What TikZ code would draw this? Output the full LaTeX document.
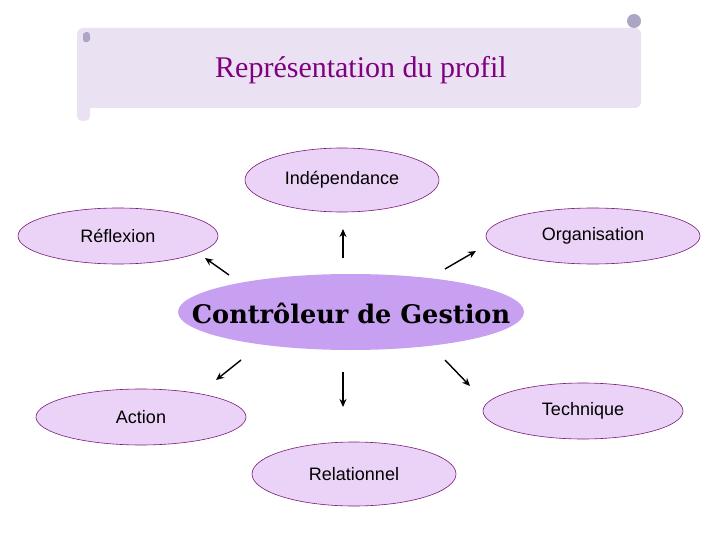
\documentclass[tikz,border=0pt]{standalone}
\usepackage{fontspec}
\setmainfont{Liberation Serif}
\setsansfont{Liberation Sans}
\newfontfamily\ctfont{DejaVu Serif}
\usetikzlibrary{shapes.geometric,arrows.meta}
\definecolor{scroll}{HTML}{EAE2F2}
\definecolor{curl}{HTML}{ADA5C4}
\definecolor{elfill}{HTML}{EBD3F7}
\definecolor{elline}{HTML}{7A1A7A}
\definecolor{center}{HTML}{C8A0F2}
\definecolor{titlec}{HTML}{800080}
\tikzset{
  leaf/.style={ellipse, draw=elline, line width=0.6pt, fill=elfill, inner sep=0pt},
  lbl/.style={font=\sffamily\fontsize{18}{20}\selectfont},
  arr/.style={-{Stealth[length=8pt,width=7pt]}, line width=1.4pt, black},
}
\begin{document}
\begin{tikzpicture}[x=1pt,y=-1pt]
\useasboundingbox (0,0) rectangle (720,540);
% scroll banner
\fill[scroll, rounded corners=6pt] (77,28) rectangle (641,108);
\fill[scroll, rounded corners=5pt] (77,40) rectangle (90,121);
\fill[curl] (83,34) .. controls (86,31) and (90,31) .. (90,36) -- (90,40) .. controls (88,43) and (84,43) .. (83,40) -- cycle;
\fill[curl] (634,21) circle (7);
\node[text=titlec, font=\fontsize{30}{34}\selectfont] (title) at (361,70) {Représentation du profil};
% nodes
\node[ellipse, fill=center, inner sep=0pt, minimum width=346, minimum height=76] (c) at (351,312) {};
\node[font=\ctfont\bfseries\fontsize{25.6}{30}\selectfont] (ct) at (351,313) {Contrôleur de Gestion};
\node[leaf, minimum width=194, minimum height=64] (ind) at (342,180) {};
\node[lbl] at (ind) {Indépendance};
\node[leaf, minimum width=200, minimum height=56] (ref) at (118,236) {};
\node[lbl] at (ref) {Réflexion};
\node[leaf, minimum width=214, minimum height=56] (org) at (593,236) {};
\node[lbl] at (org) {Organisation};
\node[leaf, minimum width=210, minimum height=56] (act) at (141,417) {};
\node[lbl] at (act) {Action};
\node[leaf, minimum width=200, minimum height=56] (tec) at (583,411) {};
\node[lbl] at (tec) {Technique};
\node[leaf, minimum width=204, minimum height=64] (rel) at (354,474) {};
\node[lbl] at (rel) {Relationnel};
% arrows
\coordinate (a1s) at (343,258); \coordinate (a1e) at (343,229);
\coordinate (a2s) at (229,275); \coordinate (a2e) at (205,258);
\coordinate (a3s) at (445,269); \coordinate (a3e) at (476,251);
\coordinate (a4s) at (241,360); \coordinate (a4e) at (216,380);
\coordinate (a5s) at (343,372); \coordinate (a5e) at (343,407);
\coordinate (a6s) at (445,360); \coordinate (a6e) at (470,386);
\draw[arr] (a1s) -- (a1e);
\draw[arr] (a2s) -- (a2e);
\draw[arr] (a3s) -- (a3e);
\draw[arr] (a4s) -- (a4e);
\draw[arr] (a5s) -- (a5e);
\draw[arr] (a6s) -- (a6e);
\end{tikzpicture}
\end{document}
